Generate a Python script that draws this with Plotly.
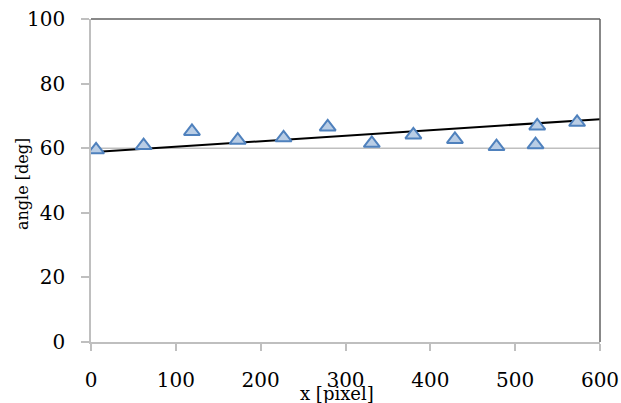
import plotly.graph_objects as go

# measured points
x_px = [6, 62, 119, 173, 227, 279, 331, 380, 429, 478, 524, 526, 573]
angle_deg = [59.5, 60.8, 65.2, 62.5, 63.2, 66.6, 61.5, 64.1, 62.7, 60.5, 61.1, 66.9, 68.0]

# trend line endpoints
trend_x = [4, 600]
trend_y = [58.8, 69.0]

# reference horizontal line
ref_line_y = 60

x_ticks = [0, 100, 200, 300, 400, 500, 600]
y_ticks = [0, 20, 40, 60, 80, 100]

font_family = "DejaVu Serif"

fig = go.Figure()

fig.add_trace(go.Scatter(
    x=trend_x, y=trend_y, mode="lines",
    line=dict(color="#000000", width=2),
    showlegend=False, hoverinfo="skip",
))

fig.add_trace(go.Scatter(
    x=x_px, y=angle_deg, mode="markers",
    marker=dict(symbol="triangle-up", size=14, color="#b9cde5",
                line=dict(color="#4f81bd", width=2)),
    showlegend=False,
))

fig.add_shape(type="line", xref="paper", yref="y", x0=0, x1=1,
              y0=ref_line_y, y1=ref_line_y,
              line=dict(color="#bfbfbf", width=1.5), layer="below")
# top and right borders
fig.add_shape(type="line", xref="paper", yref="paper", x0=0, x1=1, y0=1, y1=1,
              line=dict(color="#606060", width=1.5))
fig.add_shape(type="line", xref="paper", yref="paper", x0=1, x1=1, y0=0, y1=1,
              line=dict(color="#606060", width=1.5))

fig.update_xaxes(
    range=[0, 600], tickvals=x_ticks, showgrid=False, zeroline=False,
    showline=True, linecolor="#bfbfbf", linewidth=1.5,
    ticks="outside", ticklen=7, tickcolor="#bfbfbf", tickwidth=1.5,
    tickfont=dict(family=font_family, size=20, color="#000000"),
    ticklabelstandoff=12, automargin=False,
)
fig.update_yaxes(
    range=[0, 100], tickvals=y_ticks, showgrid=False, zeroline=False,
    showline=True, linecolor="#bfbfbf", linewidth=1.5,
    ticks="outside", ticklen=8, tickcolor="#bfbfbf", tickwidth=1.5,
    tickfont=dict(family=font_family, size=20, color="#000000"),
    ticklabelstandoff=12, automargin=False,
)

fig.add_annotation(text="x [pixel]", xref="paper", yref="paper",
                   x=(337 - 91) / 509, y=-0.12, xanchor="center", yanchor="top",
                   showarrow=False,
                   font=dict(family=font_family, size=18, color="#000000"))
fig.add_annotation(text="angle [deg]", xref="paper", yref="paper",
                   x=-0.135, y=0.49, xanchor="center", yanchor="middle",
                   textangle=-90, showarrow=False,
                   font=dict(family=font_family, size=16, color="#000000"))

fig.update_layout(
    width=621, height=403,
    margin=dict(l=91, r=21, t=19, b=61),
    plot_bgcolor="#ffffff", paper_bgcolor="#ffffff",
)

fig.write_html(
    "out.html",
    config={"displayModeBar": False},
    post_script="document.body.style.margin='0';document.body.style.overflow='hidden';",
)
